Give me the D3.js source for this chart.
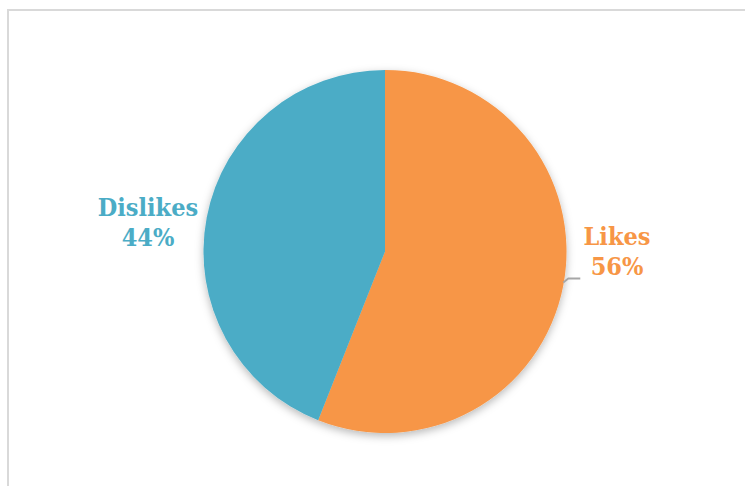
<!DOCTYPE html>
<html>
<head>
<meta charset="utf-8">
<script src="https://cdn.jsdelivr.net/npm/d3@7"></script>
<style>
  html, body { margin: 0; padding: 0; background: #fff; }
  svg { display: block; }
</style>
</head>
<body>
<svg id="chart" width="745" height="486"></svg>
<script>
const categories = ["Likes", "Dislikes"];
const values = [56, 44];
const labels = ["56%", "44%"];
const colors = ["#F79646", "#4BACC6"];

const svg = d3.select("#chart");
const W = 745, H = 486;

// chart area border
svg.append("rect")
  .attr("x", 8).attr("y", 10)
  .attr("width", W + 20).attr("height", H + 20)
  .attr("fill", "#fff")
  .attr("stroke", "#d9d9d9").attr("stroke-width", 2);

const defs = svg.append("defs");
const f = defs.append("filter").attr("id", "shadow")
  .attr("x", "-20%").attr("y", "-20%").attr("width", "140%").attr("height", "140%");
f.append("feDropShadow").attr("dx", 0).attr("dy", 3).attr("stdDeviation", 4)
  .attr("flood-color", "#000").attr("flood-opacity", 0.28);

const cx = 385, cy = 251.5, r = 181.5;
const pie = d3.pie().sort(null).value(d => d)(values);
const arc = d3.arc().innerRadius(0).outerRadius(r);

const g = svg.append("g").attr("transform", `translate(${cx},${cy})`);
const slices = g.append("g").attr("filter", "url(#shadow)");
slices.selectAll("path").data(pie).join("path")
  .attr("d", arc)
  .attr("fill", (d, i) => colors[i]);

// leader line for Likes
const likesMid = (pie[0].startAngle + pie[0].endAngle) / 2;
const ep = [r * Math.sin(likesMid), -r * Math.cos(likesMid)];
g.append("polyline")
  .attr("points", [[ep[0], ep[1] - 3], [ep[0] + 5, ep[1] - 7], [ep[0] + 17, ep[1] - 7]].map(p => p.join(",")).join(" "))
  .attr("fill", "none").attr("stroke", "#a6a6a6").attr("stroke-width", 1.8);

// labels
const labelPos = [[617, 245], [148, 216]];
const lineGap = 30;
const fontFam = "'DejaVu Serif Condensed', 'DejaVu Serif', 'Liberation Serif', serif";
categories.forEach((c, i) => {
  const t = svg.append("text")
    .attr("text-anchor", "middle")
    .attr("font-family", fontFam)
    .attr("font-weight", "bold")
    .attr("font-stretch", "condensed")
    .attr("font-size", 25)
    .attr("fill", colors[i]);
  t.append("tspan").attr("x", labelPos[i][0]).attr("y", labelPos[i][1]).text(c);
  t.append("tspan").attr("x", labelPos[i][0]).attr("y", labelPos[i][1] + lineGap).text(labels[i]);
});
</script>
</body>
</html>
